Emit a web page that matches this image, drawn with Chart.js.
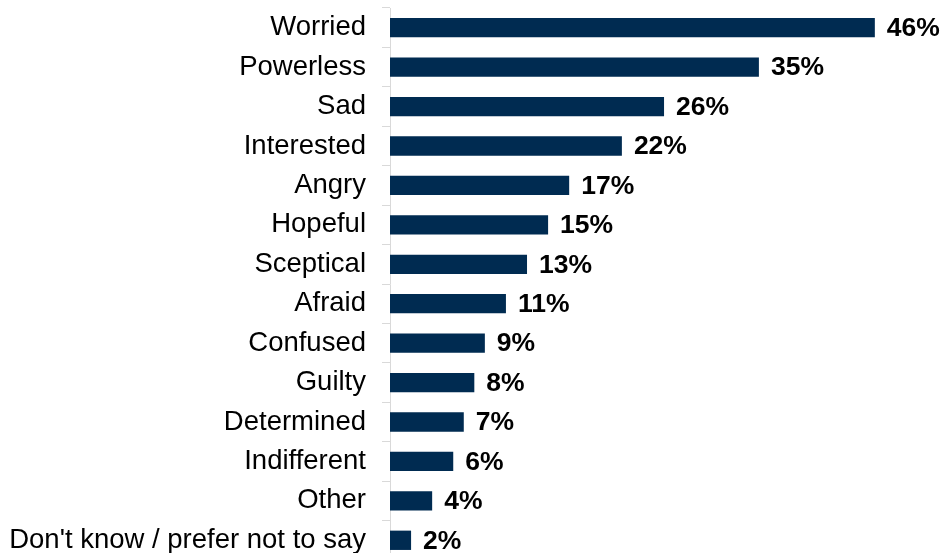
<!DOCTYPE html>
<html>
<head>
<meta charset="utf-8">
<script src="https://cdn.jsdelivr.net/npm/chart.js@4/dist/chart.umd.min.js"></script>
<style>
  html, body { margin: 0; padding: 0; background: #fff; overflow: hidden; }
  #wrap { width: 941px; height: 566px; }
</style>
</head>
<body>
<div id="wrap"><canvas id="chart"></canvas></div>
<script>
// 감정 응답 비율 (%)
const labels = [
  "Worried", "Powerless", "Sad", "Interested", "Angry", "Hopeful", "Sceptical",
  "Afraid", "Confused", "Guilty", "Determined", "Indifferent", "Other",
  "Don't know / prefer not to say"
];
const values = [46, 35, 26, 22, 17, 15, 13, 11, 9, 8, 7, 6, 4, 2];

const FONT = "'Liberation Sans', Arial, sans-serif";

// 막대 끝에 값 표시
const valueLabels = {
  id: "valueLabels",
  afterDatasetsDraw(chart) {
    const { ctx } = chart;
    const meta = chart.getDatasetMeta(0);
    ctx.save();
    ctx.font = `bold 26.5px ${FONT}`;
    ctx.fillStyle = "#000";
    ctx.textAlign = "left";
    ctx.textBaseline = "middle";
    meta.data.forEach((bar, i) => {
      ctx.fillText(values[i] + "%", bar.x + 12, bar.y + 1);
    });
    ctx.restore();
  }
};

new Chart(document.getElementById("chart"), {
  type: "bar",
  data: {
    labels,
    datasets: [{
      data: values,
      backgroundColor: "#002B51",
      categoryPercentage: 1,
      barPercentage: 0.49
    }]
  },
  options: {
    indexAxis: "y",
    responsive: true, maintainAspectRatio: false,
    animation: false,
    layout: { padding: { top: 8, right: 24, bottom: 6, left: 0 } },
    plugins: { legend: { display: false }, tooltip: { enabled: false } },
    scales: {
      x: { display: false, min: 0, max: 50 },
      y: {
        // 라벨 높이만큼 생기는 위아래 여백 제거
        afterFit: (s) => { s.width = 390; s.paddingTop = 0; s.paddingBottom = 0; },
        border: { color: "#D9D9D9", width: 1 },
        grid: { drawOnChartArea: false, tickLength: 8, color: "#D9D9D9", offset: true },
        ticks: { color: "#000", padding: 16, font: { family: FONT, size: 27.5 } }
      }
    }
  },
  plugins: [valueLabels]
});
</script>
</body>
</html>
